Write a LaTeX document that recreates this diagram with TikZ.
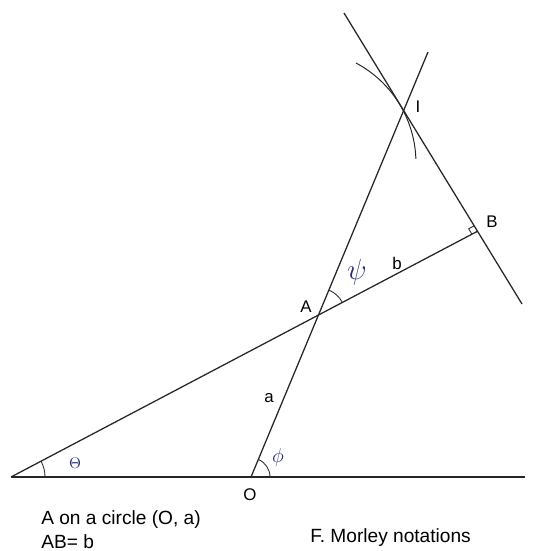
\documentclass[tikz,border=0pt]{standalone}
\usepackage{fontspec}
\setmainfont{Liberation Sans}
\usetikzlibrary{calc,angles,positioning}
\definecolor{greekblue}{RGB}{35,45,120}
\tikzset{
    seg/.style={draw, line width=0.9pt, black!85},
    ang/.style={draw, line width=0.6pt, black!85},
    lbl/.style={inner sep=0pt, font=\fontsize{12}{14}\selectfont},
    txt/.style={inner sep=0pt, font=\fontsize{13.6}{17}\selectfont},
    greek/.style={inner sep=0pt, text=greekblue}
}

\begin{document}
\begin{tikzpicture}[x=0.025cm, y=-0.025cm]
    \useasboundingbox (0,0) rectangle (539,551);
    % Points
    \coordinate (L) at (11,477);
    \coordinate (O) at (251,477);
    \coordinate (E) at (525,477);
    \coordinate (T) at (428,52);
    \coordinate (P) at (344,13);
    \coordinate (Q) at (522,304);
    \coordinate (Bm) at (476,232);
    \coordinate (A) at (intersection of O--T and L--Bm);
    \coordinate (I) at (intersection of O--T and P--Q);
    \coordinate (B) at (intersection of L--Bm and P--Q);

    % Lines
    \draw[seg] (L) -- (E);
    \draw[seg] (L) -- (B);
    \draw[seg] (O) -- (T);
    \draw[seg] (P) -- (Q);
    \draw[seg, line width=0.7pt] (356,63) arc[start angle=-62, end angle=-2, radius=113];

    % Angles
    \pic[ang, angle radius=0.85cm] {angle=O--L--B};
    \pic[ang, angle radius=0.475cm] {angle=E--O--I};
    \pic[ang, angle radius=0.675cm] {angle=B--A--I};
    \coordinate (Bl) at ($(B)!4.5pt!(L)$);
    \coordinate (Bp) at ($(B)!4.5pt!(P)$);
    \draw[ang] (Bl) -- ($(Bl)+(Bp)-(B)$) -- (Bp);

    % Labels
    \node[lbl] (lI) at (418,107) {I};
    \node[lbl] (lB) at (492,222) {B};
    \node[lbl] (lA) at (306,307) {A};
    \node[lbl] (lb) at (397,263) {b};
    \node[lbl] (la) at (269,398) {a};
    \node[lbl] (lO) at (250,495) {O};
    \node[greek, font=\fontsize{22}{22}\selectfont] (psi) at (357,272) {$\psi$};
    \node[greek, font=\fontsize{14}{14}\selectfont] (phi) at (278,457) {$\phi$};
    \node[greek, font=\fontsize{11}{11}\selectfont] (theta) at (75,463) {$\Theta$};

    % Notes
    \node[txt, anchor=west, align=left] (note) at (41,530) {A on a circle (O, a)\\AB= b};
    \node[txt, anchor=west] (title) at (310,538) {F. Morley notations};
\end{tikzpicture}
\end{document}
